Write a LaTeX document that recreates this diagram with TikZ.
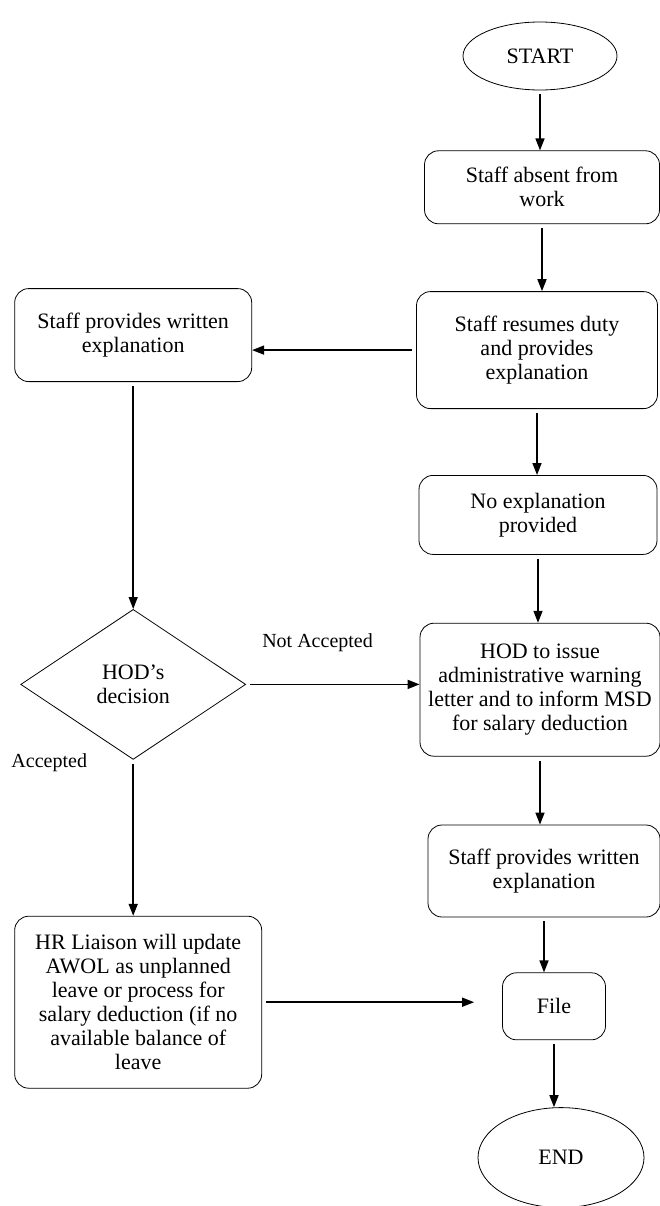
\documentclass[tikz,border=0pt]{standalone}
\usepackage{fontspec}
\setmainfont{Liberation Serif}
\usetikzlibrary{shapes.geometric, arrows.meta, positioning}

\begin{document}
\begin{tikzpicture}[
    x=1pt, y=1pt,
    procbox/.style={rectangle, draw=black, line width=0.8pt, rounded corners=14pt, align=center, font=\fontsize{22}{24}\selectfont, inner sep=2pt},
    termbox/.style={ellipse, draw=black, line width=0.8pt, align=center, font=\fontsize{22}{24}\selectfont, inner sep=0pt},
    decbox/.style={diamond, draw=black, line width=0.8pt, aspect=1.5, inner sep=0pt, align=center, font=\fontsize{22}{24}\selectfont, minimum width=225pt, minimum height=150pt},
    lbl/.style={font=\fontsize{20}{24}\selectfont, inner sep=0pt},
    arrow/.style={-{Triangle[length=12pt, width=9pt]}, line width=1.6pt, shorten <=4pt}
]
\useasboundingbox (0,0) rectangle (660,-1206);

% Main column: absence handling
\node[termbox, minimum width=154pt, minimum height=68pt] (start) at (540,-56) {START};
\node[procbox, below=60pt of start, xshift=2pt, minimum width=235pt, minimum height=73pt] (absent) {Staff absent from\\work};
\node[procbox, below=67pt of absent, xshift=-5pt, minimum width=241pt, minimum height=117pt] (resumes) {Staff resumes duty\\and provides\\explanation};
\node[procbox, below=66pt of resumes, xshift=1pt, minimum width=238pt, minimum height=79pt] (noexp) {No explanation\\provided};
\node[procbox, below=68pt of noexp, xshift=2pt, minimum width=240pt, minimum height=133pt] (hod) {HOD to issue\\administrative warning\\letter and to inform MSD\\for salary deduction};
\node[procbox, below=68pt of hod, xshift=4pt, minimum width=232pt, minimum height=92pt] (written_r) {Staff provides written\\explanation};
\node[procbox, below=55pt of written_r, xshift=10pt, minimum width=103pt, minimum height=67pt] (file) {File};
\node[termbox, below=67pt of file, xshift=7pt, minimum width=166pt, minimum height=100pt] (end) {END};

% Left column: written explanation and decision
\node[procbox, left=164pt of resumes, yshift=15pt, minimum width=237pt, minimum height=93pt] (written_l) {Staff provides written\\explanation};
\node[decbox, below=227pt of written_l] (dec) {HOD's\\decision};
\node[procbox, below=156pt of dec, xshift=5pt, minimum width=247pt, minimum height=172pt] (hr) {HR Liaison will update\\AWOL as unplanned\\leave or process for\\salary deduction (if no\\available balance of\\leave};

% Labels
\node[lbl, above right=32pt and 16pt of dec.east] (lbl_no) {Not Accepted};
\node[lbl, below left=-6pt and 46pt of dec.south] (lbl_yes) {Accepted};

% Connectors
\draw[arrow] (start) -- (start |- absent.north);
\draw[arrow] (absent) -- (absent |- resumes.north);
\draw[arrow] (resumes) -- (resumes |- noexp.north);
\draw[arrow] (noexp) -- (noexp |- hod.north);
\draw[arrow] (hod) -- (hod |- written_r.north);
\draw[arrow] (written_r) -- (written_r |- file.north);
\draw[arrow] (file) -- (file |- end.north);

\draw[arrow] (resumes.west) -- (resumes.west -| written_l.east);
\draw[arrow] (written_l) -- (written_l |- dec.north);
\draw[arrow] (dec.east) -- (dec.east -| hod.west);
\draw[arrow] (dec.south) -- (dec.south |- hr.north);
\draw[arrow, shorten >=28pt] (hr.east) -- (hr.east -| file.west);

\end{tikzpicture}
\end{document}
